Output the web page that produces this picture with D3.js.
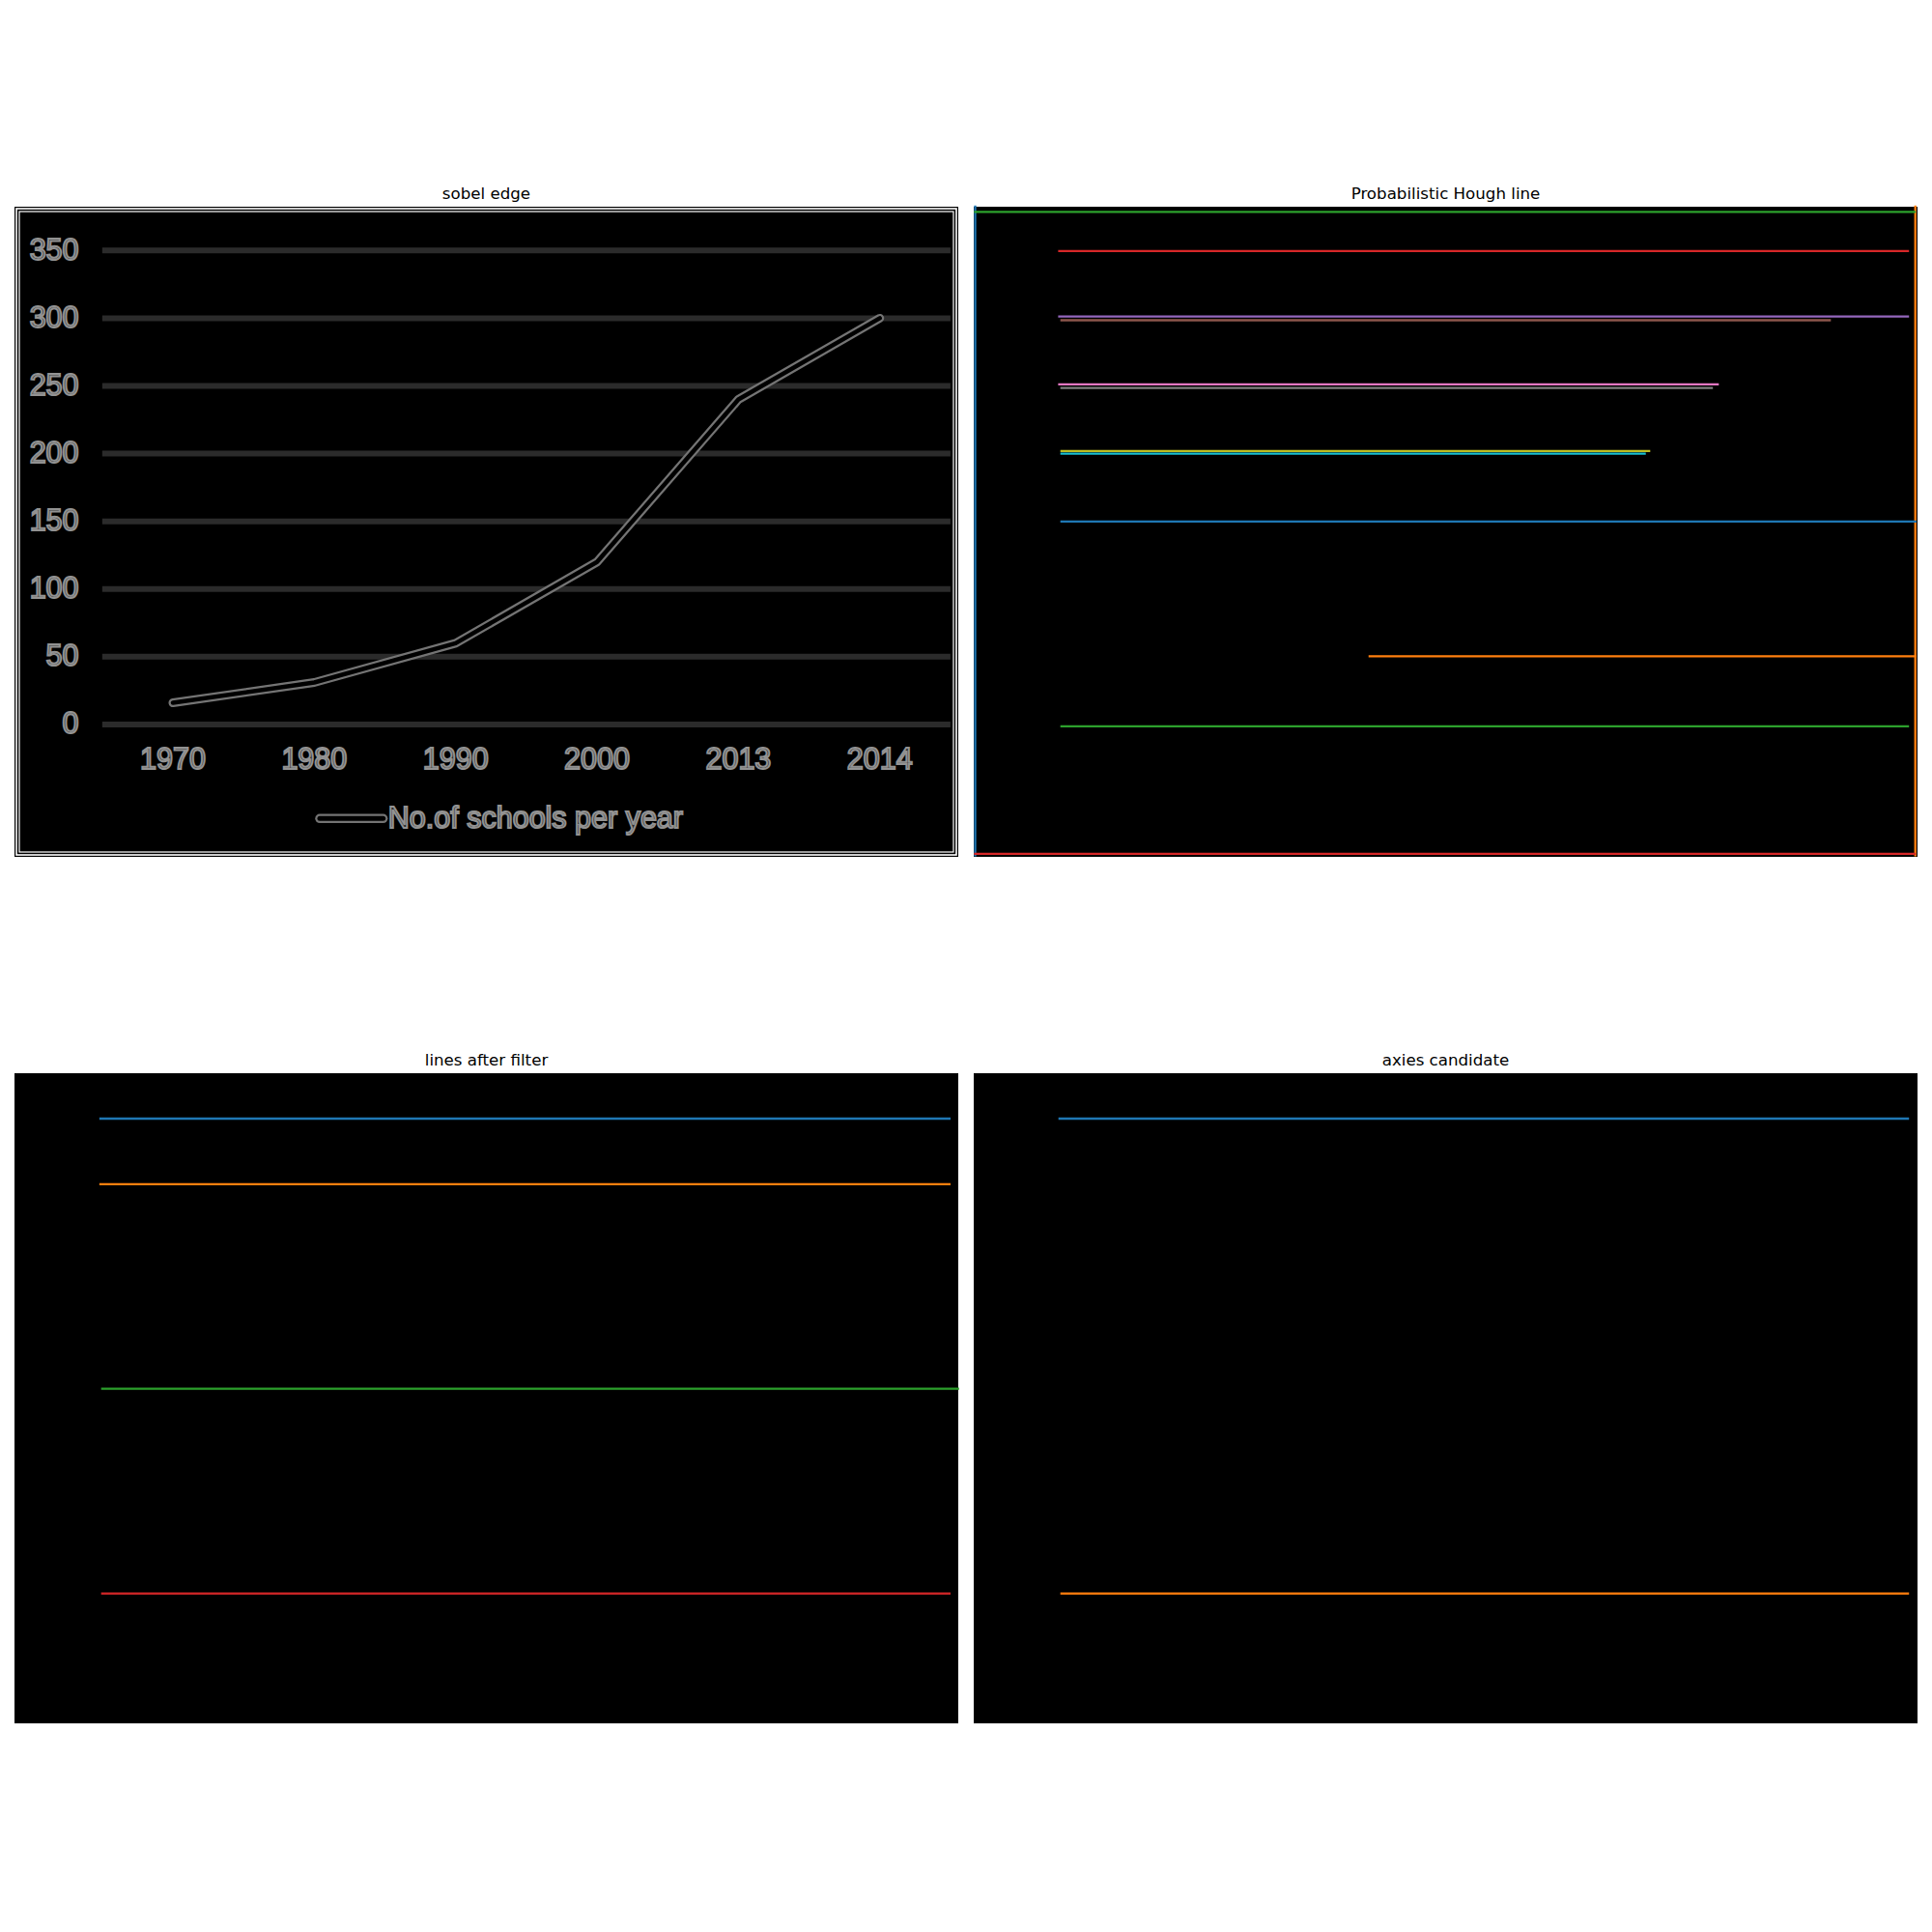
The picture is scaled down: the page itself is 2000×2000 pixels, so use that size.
<!DOCTYPE html>
<html>
<head>
<meta charset="utf-8">
<script src="https://cdn.jsdelivr.net/npm/d3@7"></script>
<style>
  html, body { margin: 0; padding: 0; background: #ffffff; }
  svg { display: block; }
</style>
</head>
<body>
<svg id="chart" width="2000" height="2000"></svg>
<script>
// ---------------- DATA ----------------
const panelTitles = ["sobel edge", "Probabilistic Hough line", "lines after filter", "axies candidate"];

// chart inside the sobel-edge image
const categories = ["1970", "1980", "1990", "2000", "2013", "2014"];
const schools = [16, 31, 60, 120, 240, 300];
const yTicks = [0, 50, 100, 150, 200, 250, 300, 350];
const legendLabel = "No.of schools per year";

// detected segments, image pixel coordinates [x1, y1, x2, y2]
const houghSegments = [
  [1, 0, 1, 440],
  [638.5, 0, 638.5, 440],
  [1, 3.5, 638, 3.5],
  [1, 439, 638, 439],
  [58, 74.5, 633.5, 74.5],
  [59.5, 77, 580.5, 77],
  [58, 120.5, 504.5, 120.5],
  [59.5, 123, 500.5, 123],
  [59.5, 165.7, 458, 165.7],
  [59.5, 167.5, 455, 167.5],
  [59.5, 213.5, 638.5, 213.5],
  [268.5, 305, 638.5, 305],
  [59.5, 352.5, 633.5, 352.5],
  [58, 30, 633.5, 30]
];
const filteredSegments = [
  [58.3, 30.8, 634, 30.8],
  [58.3, 75.3, 634, 75.3],
  [59.5, 214, 639.8, 214],
  [59.5, 352.9, 634, 352.9]
];
const axisCandidates = [
  [58.2, 30.8, 633.5, 30.8],
  [59.5, 352.9, 633.5, 352.9]
];

// ---------------- LAYOUT ----------------
const IMG_W = 640, IMG_H = 441;
const PW = 977, PH = 673;
const panels = [
  { x: 15,   y: 214 },
  { x: 1008, y: 214 },
  { x: 15,   y: 1111 },
  { x: 1008, y: 1111 }
];
const color = d3.scaleOrdinal(d3.schemeCategory10);
const svg = d3.select("#chart");

function imgScales(p) {
  return {
    sx: d3.scaleLinear().domain([0, IMG_W]).range([p.x, p.x + PW]),
    sy: d3.scaleLinear().domain([0, IMG_H]).range([p.y, p.y + PH])
  };
}

panels.forEach((p, i) => {
  svg.append("rect").attr("x", p.x).attr("y", p.y).attr("width", PW).attr("height", PH).attr("fill", "#000");
  svg.append("text")
    .attr("x", p.x + PW / 2).attr("y", p.y - 8.3)
    .attr("text-anchor", "middle")
    .attr("font-family", "DejaVu Sans")
    .attr("font-size", 16.67)
    .attr("fill", "#000")
    .text(panelTitles[i]);
});

// ---------------- PANEL 1: sobel edge ----------------
(function () {
  const p = panels[0];
  const { sx, sy } = imgScales(p);
  const g = svg.append("g");

  // image border edges
  g.append("rect").attr("x", p.x + 2).attr("y", p.y + 2).attr("width", PW - 4).attr("height", PH - 4)
    .attr("fill", "none").attr("stroke", "#fff").attr("stroke-width", 1.6);
  g.append("rect").attr("x", p.x + 5).attr("y", p.y + 5).attr("width", PW - 10).attr("height", PH - 10)
    .attr("fill", "none").attr("stroke", "#fff").attr("stroke-width", 1.2);

  const x = d3.scaleBand().domain(categories).range([sx(59.5), sx(634.7)]);
  const y = d3.scaleLinear().domain([0, 350]).range([sy(351.2), sy(29.7)]);

  // gridlines
  g.selectAll(".grid").data(yTicks).enter().append("line")
    .attr("x1", sx(59.5)).attr("x2", sx(634.7))
    .attr("y1", d => y(d)).attr("y2", d => y(d))
    .attr("stroke", "#2b2b2b").attr("stroke-width", 6);

  const textStyle = sel => sel
    .attr("font-family", "Liberation Sans, Arial, sans-serif")
    .attr("font-size", 30.5)
    .attr("fill", "#2c2c2c")
    .attr("stroke", "#929292")
    .attr("stroke-width", 2)
    .attr("paint-order", "fill");

  // y labels
  g.selectAll(".ylab").data(yTicks).enter().append("text")
    .attr("x", sx(43.6)).attr("y", d => y(d) + 9.5)
    .attr("text-anchor", "end")
    .call(textStyle)
    .text(d => d);

  // x labels
  g.selectAll(".xlab").data(categories).enter().append("text")
    .attr("x", d => x(d) + x.bandwidth() / 2).attr("y", sy(375.5) + 8.5)
    .attr("text-anchor", "middle")
    .call(textStyle)
    .text(d => d);

  // data line (edge outline look)
  const line = d3.line()
    .x((d, i) => x(categories[i]) + x.bandwidth() / 2)
    .y(d => y(d));
  g.append("path").datum(schools).attr("d", line)
    .attr("fill", "none").attr("stroke", "#747474").attr("stroke-width", 9)
    .attr("stroke-linejoin", "round").attr("stroke-linecap", "round");
  g.append("path").datum(schools).attr("d", line)
    .attr("fill", "none").attr("stroke", "#000").attr("stroke-width", 4.5)
    .attr("stroke-linejoin", "round").attr("stroke-linecap", "round");

  // legend
  const ly = sy(415);
  g.append("line").attr("x1", sx(207)).attr("x2", sx(250)).attr("y1", ly).attr("y2", ly)
    .attr("stroke", "#747474").attr("stroke-width", 9.5).attr("stroke-linecap", "round");
  g.append("line").attr("x1", sx(207)).attr("x2", sx(250)).attr("y1", ly).attr("y2", ly)
    .attr("stroke", "#000").attr("stroke-width", 5).attr("stroke-linecap", "round");
  g.append("text").attr("x", sx(253.4)).attr("y", ly + 10)
    .call(textStyle)
    .text(legendLabel);
})();

// ---------------- PANELS 2-4: segments ----------------
function drawSegments(p, segs) {
  const { sx, sy } = imgScales(p);
  svg.append("g").selectAll("line").data(segs).enter().append("line")
    .attr("x1", d => sx(d[0])).attr("y1", d => sy(d[1]))
    .attr("x2", d => sx(d[2])).attr("y2", d => sy(d[3]))
    .attr("stroke", (d, i) => color(i % 10))
    .attr("stroke-width", 2.3)
    .attr("stroke-linecap", "square");
}
drawSegments(panels[1], houghSegments);
drawSegments(panels[2], filteredSegments);
drawSegments(panels[3], axisCandidates);
</script>
</body>
</html>
